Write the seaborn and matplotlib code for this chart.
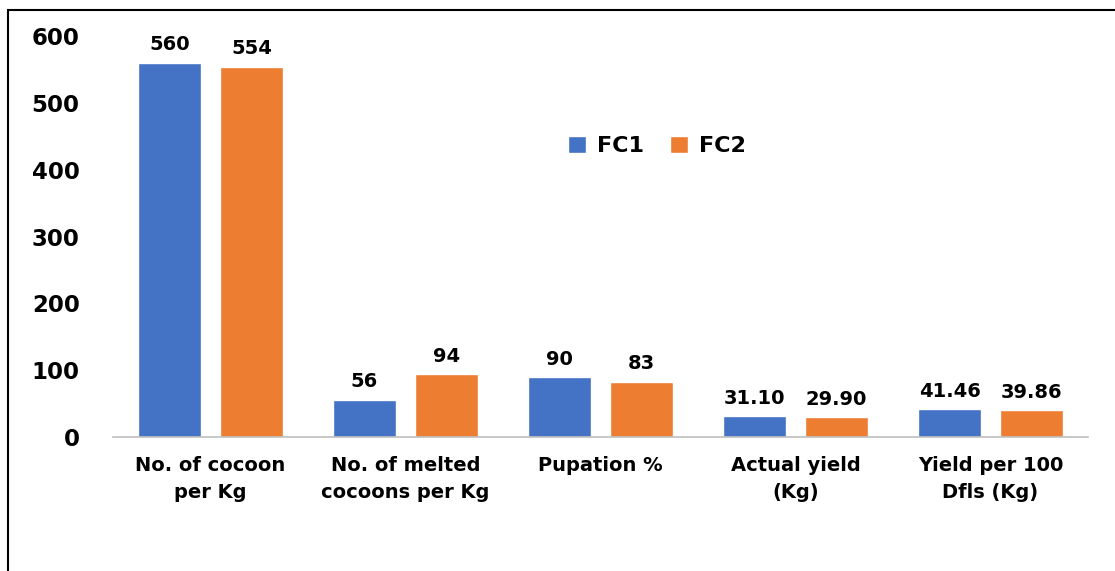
import pandas as pd
import matplotlib.pyplot as plt
import seaborn as sns
from matplotlib.patches import Rectangle

categories = ['No. of cocoon\nper Kg', 'No. of melted\ncocoons per Kg', 'Pupation %',
              'Actual yield\n(Kg)', 'Yield per 100\nDfls (Kg)']
fc1 = [560, 56, 90, 31.10, 41.46]
fc2 = [554, 94, 83, 29.90, 39.86]
decimals = [0, 0, 0, 2, 2]
yticks = [0, 100, 200, 300, 400, 500, 600]

df = pd.DataFrame({
    'param': categories * 2,
    'value': fc1 + fc2,
    'group': ['FC1'] * len(fc1) + ['FC2'] * len(fc2),
})

sns.set_theme(style='white')
plt.rcParams['font.family'] = ['DejaVu Sans']
plt.rcParams['font.weight'] = 'bold'
plt.rcParams['text.color'] = 'black'
plt.rcParams['xtick.labelcolor'] = 'black'
plt.rcParams['ytick.labelcolor'] = 'black'

fig = plt.figure(figsize=(11.15, 5.71), dpi=100)
ax = fig.add_axes([113 / 1115, 134 / 571, 975 / 1115, 401 / 571])

sns.barplot(data=df, x='param', y='value', hue='group', order=categories,
            palette=['#4472C4', '#ED7D31'], width=0.84, gap=0.22,
            saturation=1, ax=ax)

for cont, vals in zip(ax.containers, [fc1, fc2]):
    labels = [f'{v:.{d}f}' for v, d in zip(vals, decimals)]
    ax.bar_label(cont, labels=labels, padding=6, fontsize=14,
                 fontweight='bold', color='black')

ax.set_ylim(0, 600)
ax.set_yticks(yticks)
ax.set_xlim(-0.5, len(categories) - 0.5)
ax.set_xlabel('')
ax.set_ylabel('')
ax.tick_params(axis='y', labelsize=16.5, pad=24, length=0, labelcolor='black')
ax.tick_params(axis='x', labelsize=14, pad=14, length=0, labelcolor='black')
for lab in ax.get_xticklabels():
    lab.set_fontweight('bold')
    lab.set_linespacing(1.5)
for lab in ax.get_yticklabels():
    lab.set_fontweight('bold')

for side in ['top', 'right', 'left']:
    ax.spines[side].set_visible(False)
ax.spines['bottom'].set_color('#bfbfbf')
ax.spines['bottom'].set_linewidth(1.2)

ax.legend(loc='center', bbox_to_anchor=(657 / 1115, 1 - 146 / 571),
          bbox_transform=fig.transFigure, ncol=2, frameon=False,
          fontsize=16, handlelength=0.8, handleheight=0.8,
          columnspacing=1.2, handletextpad=0.5)
for t in ax.get_legend().get_texts():
    t.set_fontweight('bold')
    t.set_color('black')

# frame line at top and left of the image
fig.patches.append(Rectangle((8 / 1115, -0.5), 1.5, 0.5 + 1 - 10 / 571,
                             transform=fig.transFigure, fill=False,
                             edgecolor='black', linewidth=1.5, clip_on=False))

fig.savefig('out.png', dpi=100)
